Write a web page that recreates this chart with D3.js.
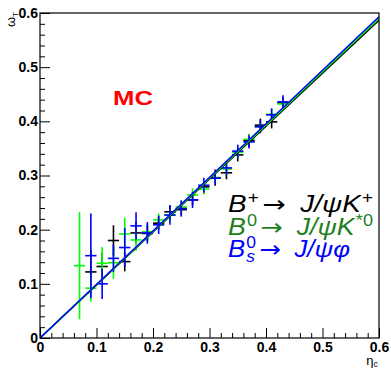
<!DOCTYPE html>
<html><head><meta charset="utf-8">
<script src="https://cdn.jsdelivr.net/npm/d3@7/dist/d3.min.js"></script>
<style>body{margin:0;background:#fff}svg{display:block}</style>
</head><body><svg id="c" width="391" height="369"></svg>
<script>
// ---- data ----
const seriesNames = ["B+", "B0", "Bs"];
const seriesColors = ["#000000", "#00ff00", "#0000ff"];
const legendColors = ["#000000", "#1f7f1f", "#0000ff"];
const binHalfWidth = 0.01;

const etaBplus = [0.09,0.11,0.13,0.15,0.17,0.19,0.21,0.23,0.25,0.27,0.29,0.31,0.33,0.35,0.37,0.39,0.41,0.43];
const omegaBplus = [0.122,0.132,0.180,0.141,0.194,0.193,0.212,0.233,0.237,0.255,0.279,0.296,0.305,0.338,0.364,0.393,0.399,0.434];
const errBplus = [0.04,0.026,0.028,0.018,0.02,0.015,0.012,0.012,0.01,0.01,0.01,0.015,0.012,0.012,0.012,0.012,0.012,0.01];

const etaB0 = [0.07,0.09,0.11,0.13,0.15,0.17,0.19,0.21,0.23,0.25,0.27,0.29,0.31,0.33,0.35,0.37,0.39,0.41,0.43];
const omegaB0 = [0.1335,0.092,0.138,0.139,0.192,0.181,0.196,0.218,0.227,0.242,0.264,0.275,0.295,0.312,0.343,0.367,0.390,0.413,0.432];
const errB0 = [0.099,0.025,0.03,0.03,0.03,0.02,0.015,0.012,0.012,0.012,0.012,0.01,0.01,0.01,0.01,0.01,0.01,0.01,0.01];

const etaBs = [0.09,0.11,0.13,0.15,0.17,0.19,0.21,0.23,0.25,0.27,0.29,0.31,0.33,0.35,0.37,0.39,0.41,0.43];
const omegaBs = [0.152,0.100,0.147,0.167,0.207,0.194,0.209,0.227,0.239,0.255,0.282,0.295,0.314,0.345,0.362,0.390,0.412,0.436];
const errBs = [0.078,0.028,0.025,0.036,0.025,0.02,0.017,0.018,0.015,0.015,0.014,0.012,0.012,0.012,0.012,0.012,0.012,0.012];

const fitSlopes = [0.978, 0.9835, 0.9885];

const majorTicks = [0,0.1,0.2,0.3,0.4,0.5,0.6];
const minorTicks = [0.02,0.04,0.06,0.08,0.12,0.14,0.16,0.18,0.22,0.24,0.26,0.28,0.32,0.34,0.36,0.38,0.42,0.44,0.46,0.48,0.52,0.54,0.56,0.58];
const tickLabels = ["0","0.1","0.2","0.3","0.4","0.5","0.6"];

// ---- layout ----
const svg = d3.select("#c");
const L = 40, R = 379, T = 13, B = 338;
const x = d3.scaleLinear().domain([0,0.6]).range([L,R]);
const y = d3.scaleLinear().domain([0,0.6]).range([B,T]);
const font = "'Liberation Sans', Arial, Helvetica, sans-serif";

svg.append("defs").append("clipPath").attr("id","clip")
  .append("rect").attr("x",L).attr("y",T).attr("width",R-L).attr("height",B-T);

// axes
const xAxis = d3.axisBottom(x).tickValues(majorTicks).tickSizeInner(-10).tickSizeOuter(0).tickPadding(4)
  .tickFormat((d,i)=>tickLabels[i]);
const gx = svg.append("g").attr("transform",`translate(0,${B})`).call(xAxis);
gx.select(".domain").remove();
gx.selectAll("text").attr("font-family",font).attr("font-weight","bold").attr("font-size","14px").attr("fill","#000");
gx.selectAll("line").attr("stroke","#000").attr("stroke-width",1);
const gxm = svg.append("g").attr("transform",`translate(0,${B})`)
  .call(d3.axisBottom(x).tickValues(minorTicks).tickSizeInner(-5).tickSizeOuter(0).tickFormat(""));
gxm.select(".domain").remove();
gxm.selectAll("line").attr("stroke","#000");

const yAxis = d3.axisLeft(y).tickValues(majorTicks).tickSizeInner(-10).tickSizeOuter(0).tickPadding(2)
  .tickFormat((d,i)=>tickLabels[i]);
const gy = svg.append("g").attr("transform",`translate(${L},0)`).call(yAxis);
gy.select(".domain").remove();
gy.selectAll("text").attr("font-family",font).attr("font-weight","bold").attr("font-size","14px").attr("fill","#000");
gy.selectAll("line").attr("stroke","#000");
const gym = svg.append("g").attr("transform",`translate(${L},0)`)
  .call(d3.axisLeft(y).tickValues(minorTicks).tickSizeInner(-5).tickSizeOuter(0).tickFormat(""));
gym.select(".domain").remove();
gym.selectAll("line").attr("stroke","#000");

// data points
const series = [
  {eta: etaBplus, w: omegaBplus, e: errBplus},
  {eta: etaB0, w: omegaB0, e: errB0},
  {eta: etaBs, w: omegaBs, e: errBs}
];
const plot = svg.append("g").attr("clip-path","url(#clip)");
series.forEach((s,k)=>{
  const g = plot.append("g").attr("stroke",seriesColors[k]).attr("stroke-width",1.6);
  s.eta.forEach((et,i)=>{
    g.append("line").attr("x1",x(et-binHalfWidth)).attr("x2",x(et+binHalfWidth))
      .attr("y1",y(s.w[i])).attr("y2",y(s.w[i]));
    g.append("line").attr("x1",x(et)).attr("x2",x(et))
      .attr("y1",y(s.w[i]-s.e[i])).attr("y2",y(s.w[i]+s.e[i]));
  });
});
// fit lines
const line = d3.line().x(d=>x(d[0])).y(d=>y(d[1]));
fitSlopes.forEach((m,k)=>{
  plot.append("path").attr("d",line([[0,0],[0.6,0.6*m]]))
    .attr("fill","none").attr("stroke",seriesColors[k]).attr("stroke-width",1.5);
});

// frame
svg.append("rect").attr("x",L).attr("y",T).attr("width",R-L).attr("height",B-T)
  .attr("fill","none").attr("stroke","#000").attr("stroke-width",1.2);

// axis titles
const yt = svg.append("text").attr("transform",`translate(15,12) rotate(-90)`)
  .attr("text-anchor","end").attr("font-family",font).attr("font-size","13px").attr("fill","#000");
yt.append("tspan").text("ω");
yt.append("tspan").attr("font-size","8px").attr("dy",3).text("T");
const xt = svg.append("text").attr("x",378).attr("y",365)
  .attr("text-anchor","end").attr("font-family",font).attr("font-size","13px").attr("fill","#000");
xt.append("tspan").text("η");
xt.append("tspan").attr("font-size","9px").attr("dy",2).text("c");

// MC label
svg.append("text").attr("x",113).attr("y",105).attr("font-family",font)
  .attr("font-weight","bold").attr("font-size","20px").attr("fill","#ff0000")
  .attr("textLength",40).attr("lengthAdjust","spacingAndGlyphs").text("MC");

// legend
const FS = 23;
function rich(x0, y0, segs, color, targetW){
  let cx = x0;
  const g = svg.append("g").attr("fill",color).attr("font-family",font);
  segs.forEach(s=>{
    if (s.stack){
      let w = 0;
      s.stack.forEach(p=>{
        const t = g.append("text").attr("x",cx).attr("y",y0+p.dy).attr("font-size",(FS*p.scale)+"px")
          .attr("font-style",p.it?"italic":"normal").text(p.t);
        w = Math.max(w, t.node().getComputedTextLength());
      });
      cx += w + (s.gap||0);
    } else {
      const t = g.append("text").attr("x",cx).attr("y",y0+(s.dy||0)).attr("font-size",(FS*(s.scale||1))+"px")
        .attr("font-style",s.it?"italic":"normal").text(s.t);
      if (s.fam) t.attr("font-family", s.fam);
      cx += t.node().getComputedTextLength() + (s.gap||0);
    }
  });
  const w = cx - x0;
  const k = targetW / w;
  g.attr("transform",`translate(${x0},0) scale(${k},1) translate(${-x0},0)`);
}
const SUP = -9, SUB = 5, SC = 0.68, AR = "'DejaVu Sans', sans-serif";
rich(228, 212, [
  {t:"B", it:true, gap:1},
  {t:"+", scale:SC, dy:SUP, gap:3},
  {t:"→", fam:AR, gap:12},
  {t:"J/ψK", it:true, gap:1},
  {t:"+", scale:SC, dy:SUP}
], legendColors[0], 145);
rich(228, 235, [
  {t:"B", it:true, gap:1},
  {t:"0", scale:SC, dy:SUP, gap:3},
  {t:"→", fam:AR, gap:12},
  {t:"J/ψK", it:true, gap:1},
  {t:"*0", scale:SC, dy:SUP}
], legendColors[1], 145);
rich(228, 257, [
  {t:"B", it:true, gap:1},
  {stack:[{t:"0", scale:SC, dy:SUP},{t:"s", scale:SC, dy:SUB, it:true}], gap:3},
  {t:"→", fam:AR, gap:12},
  {t:"J/ψφ", it:true}
], legendColors[2], 122);
</script></body></html>
